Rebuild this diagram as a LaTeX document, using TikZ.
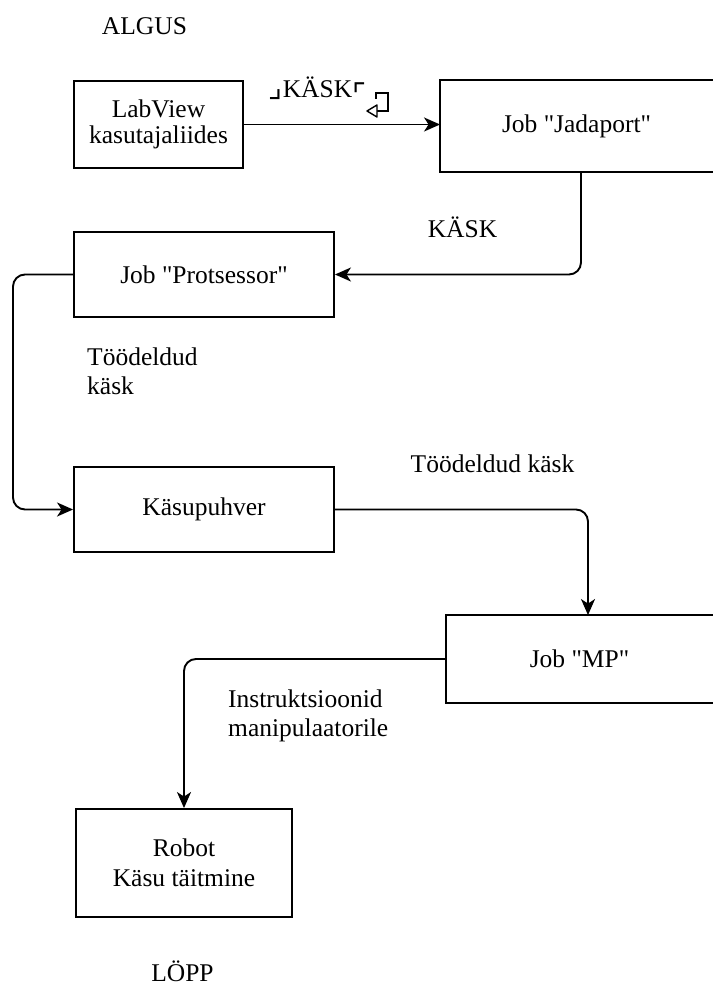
\documentclass[tikz,border=0pt]{standalone}
\usepackage{fontspec}
\setmainfont{Liberation Serif}[Ligatures=TeXOff]
\newfontfamily\symfont{DejaVu Sans}
\usetikzlibrary{arrows.meta}
\newcommand\cornerfont{\symfont\fontsize{30}{30}\selectfont}
\begin{document}
\begin{tikzpicture}[x=1pt,y=-1pt,
  box/.style={draw, line width=1.9pt, inner sep=0pt, align=center, font=\fontsize{25.5}{28}\selectfont},
  lbl/.style={inner sep=0pt, font=\fontsize{25.5}{29}\selectfont},
  edge/.style={line width=1.9pt},
  conn/.style={line width=1.9pt, rounded corners=12pt, -{Stealth[length=16pt,width=14pt,inset=4.5pt]}}]
\useasboundingbox (0,0) rectangle (712,987);

% boxes
\node[box, minimum width=169pt, minimum height=87pt, font=\fontsize{25.5}{26}\selectfont] (lab) at (158.5,124.5) {LabView\\kasutajaliides};
\node[box, draw=none, minimum width=271pt, minimum height=90pt] (jada) at (576.5,126) {Job "Jadaport"};
\draw[edge] (jada.north east) -- (jada.north west) -- (jada.south west) -- (jada.south east);
\node[box, minimum width=260pt, minimum height=85pt] (prot) at (204,274.5) {Job "Protsessor"};
\node[box, minimum width=260pt, minimum height=85pt] (kas) at (204,509.5) {Käsupuhver};
\node[box, draw=none, minimum width=265pt, minimum height=86pt] (mp) at (579.5,659) {Job "MP"};
\draw[edge] (mp.north east) -- (mp.north west) -- (mp.south west) -- (mp.south east);
\node[box, minimum width=216pt, minimum height=108pt, font=\fontsize{25.5}{30}\selectfont] (rob) at (184,863) {Robot\\Käsu täitmine};

% labels
\node[lbl, anchor=base] (algus) at (144.5,35) {ALGUS};
\node[lbl, anchor=base] (lopp) at (182.5,981) {LÖPP};
\node[lbl, anchor=base] (kask1) at (317.5,98) {{\cornerfont ⌟}KÄSK\raisebox{-8pt}{\cornerfont ⌜}};
\node[lbl, anchor=base] (kask2) at (462.5,237) {KÄSK};
\node[lbl, anchor=north west, align=left] (tk1) at (87,348) {Töödeldud\\käsk};
\node[lbl, anchor=base] (tk2) at (492.5,472) {Töödeldud käsk};
\node[lbl, anchor=north west, align=left] (instr) at (228,690) {Instruktsioonid\\manipulaatorile};

% hook symbol
\draw[line width=1.4pt] (376,99) -- (376,93) -- (388,93) -- (388,111) -- (377,111);
\draw[line width=1.4pt, fill=white, line join=round] (377,105) -- (367,111) -- (377,117) -- cycle;

% connectors
\coordinate (jx) at (581,0);
\coordinate (lx) at (13,0);
\coordinate (mx) at (588,0);
\draw[conn] (lab.east) -- (lab.east -| jada.west);
\draw[conn] (jada.south -| jx) |- (prot.east);
\draw[conn] (prot.west) -- (prot.west -| lx) -- (kas.west -| lx) -- (kas.west);
\draw[conn] (kas.east) -| (mp.north -| mx);
\draw[conn] (mp.west) -| (rob.north);
\end{tikzpicture}
\end{document}
